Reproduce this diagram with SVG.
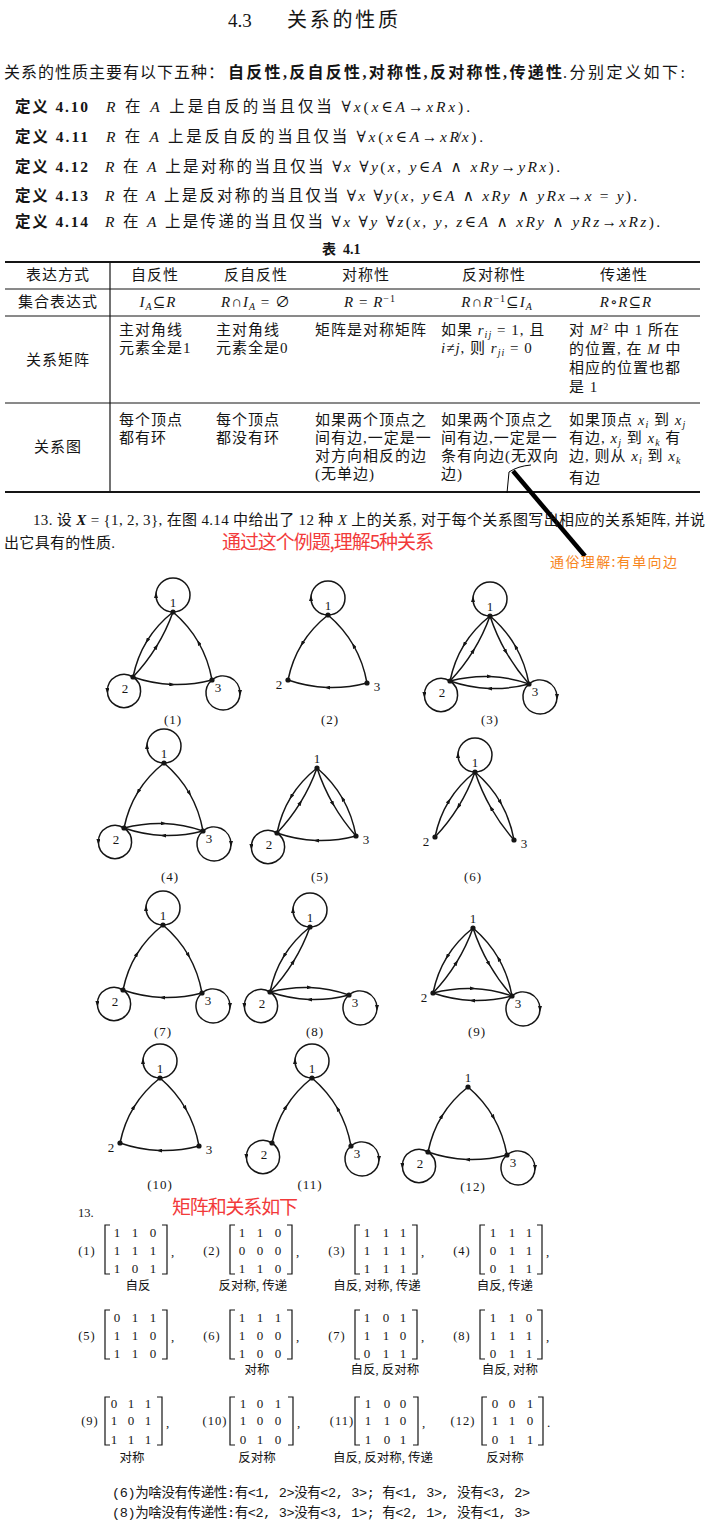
<svg xmlns="http://www.w3.org/2000/svg" width="712" height="1536" viewBox="0 0 712 1536">
<defs>
<style>
text{font-family:"Liberation Serif","DejaVu Serif","Noto Sans CJK SC",serif;fill:#151515}
.sans{font-family:"Noto Sans CJK SC","Noto Sans",sans-serif}
.mono{font-family:"Liberation Mono","Noto Sans CJK SC",monospace}
.b{font-weight:bold}
.i{font-style:italic}
.tb{font-size:15px;letter-spacing:1px}
.mid{text-anchor:middle}
.rule{stroke:#151515;fill:none}
.e{stroke:#151515;stroke-width:1.5;fill:none;marker-mid:url(#ah)}
.dot{fill:#151515}
.gl{font-size:13px;text-anchor:middle}
.cap{font-size:13px;text-anchor:middle;letter-spacing:1px}
.me{font-size:13px;text-anchor:middle}
.mb{stroke:#151515;stroke-width:1.2;fill:none}
.ml{font-size:12.5px;text-anchor:middle;letter-spacing:1px}
.pl{font-size:12.5px;text-anchor:middle}
.red{fill:#f23a3a}
.org{fill:#f7861e}
</style>
<marker id="ah" viewBox="0 0 6 4" refX="3" refY="2" markerWidth="6" markerHeight="4" markerUnits="userSpaceOnUse" orient="auto"><path d="M0,0 L6,2 L0,4 z" fill="#151515"/></marker>
</defs>
<rect width="712" height="1536" fill="#fff"/>

<!-- heading and definitions -->
<g id="heading">
<text x="228" y="27" font-size="19">4.3</text>
<text x="287" y="27" font-size="20" textLength="111" lengthAdjust="spacing">关系的性质</text>
<text x="4" y="78" font-size="16" textLength="220" lengthAdjust="spacing">关系的性质主要有以下五种：</text>
<text x="228" y="78" font-size="16" class="b" textLength="334" lengthAdjust="spacing">自反性,反自反性,对称性,反对称性,传递性</text>
<text x="563" y="78" font-size="16" textLength="122" lengthAdjust="spacing">.分别定义如下:</text>
</g>
<g id="definitions" font-size="15.5">
<text x="15" y="112" class="b" textLength="73" lengthAdjust="spacing">定义 4.10</text>
<text x="106" y="112" textLength="364" lengthAdjust="spacing"><tspan class="i">R</tspan> 在 <tspan class="i">A</tspan> 上是自反的当且仅当 ∀<tspan class="i">x</tspan>(<tspan class="i">x</tspan>∈<tspan class="i">A</tspan>→<tspan class="i">xRx</tspan>).</text>
<text x="15" y="142" class="b" textLength="73" lengthAdjust="spacing">定义 4.11</text>
<text x="106" y="142" textLength="377" lengthAdjust="spacing"><tspan class="i">R</tspan> 在 <tspan class="i">A</tspan> 上是反自反的当且仅当 ∀<tspan class="i">x</tspan>(<tspan class="i">x</tspan>∈<tspan class="i">A</tspan>→<tspan class="i">xR̸x</tspan>).</text>
<text x="15" y="172" class="b" textLength="73" lengthAdjust="spacing">定义 4.12</text>
<text x="105" y="172" textLength="455" lengthAdjust="spacing"><tspan class="i">R</tspan> 在 <tspan class="i">A</tspan> 上是对称的当且仅当 ∀<tspan class="i">x</tspan> ∀<tspan class="i">y</tspan>(<tspan class="i">x</tspan>, <tspan class="i">y</tspan>∈<tspan class="i">A</tspan> ∧ <tspan class="i">xRy</tspan>→<tspan class="i">yRx</tspan>).</text>
<text x="15" y="201" class="b" textLength="73" lengthAdjust="spacing">定义 4.13</text>
<text x="105" y="201" textLength="532" lengthAdjust="spacing"><tspan class="i">R</tspan> 在 <tspan class="i">A</tspan> 上是反对称的当且仅当 ∀<tspan class="i">x</tspan> ∀<tspan class="i">y</tspan>(<tspan class="i">x</tspan>, <tspan class="i">y</tspan>∈<tspan class="i">A</tspan> ∧ <tspan class="i">xRy</tspan> ∧ <tspan class="i">yRx</tspan>→<tspan class="i">x</tspan> = <tspan class="i">y</tspan>).</text>
<text x="15" y="227" class="b" textLength="73" lengthAdjust="spacing">定义 4.14</text>
<text x="105" y="227" textLength="555" lengthAdjust="spacing"><tspan class="i">R</tspan> 在 <tspan class="i">A</tspan> 上是传递的当且仅当 ∀<tspan class="i">x</tspan> ∀<tspan class="i">y</tspan> ∀<tspan class="i">z</tspan>(<tspan class="i">x</tspan>, <tspan class="i">y</tspan>, <tspan class="i">z</tspan>∈<tspan class="i">A</tspan> ∧ <tspan class="i">xRy</tspan> ∧ <tspan class="i">yRz</tspan>→<tspan class="i">xRz</tspan>).</text>
<text x="322" y="254" font-size="14" class="b">表</text>
<text x="343" y="254" font-size="14" class="b">4.1</text>
</g>

<!-- table -->
<g id="table">
<path class="rule" stroke-width="2" d="M5,262 H700"/>
<path class="rule" stroke-width="1" d="M5,289 H700 M5,316 H700 M5,403 H700"/>
<path class="rule" stroke-width="2.2" d="M5,492 H700"/>
<path class="rule" stroke-width="1.2" d="M110,262 V492"/>
<g class="tb">
<text class="mid" x="58" y="280">表达方式</text>
<text class="mid" x="155" y="280">自反性</text>
<text class="mid" x="256" y="280">反自反性</text>
<text class="mid" x="366" y="280">对称性</text>
<text class="mid" x="494" y="280">反对称性</text>
<text class="mid" x="624" y="280">传递性</text>
<text class="mid" x="58" y="307">集合表达式</text>
<text class="mid" x="158" y="307"><tspan class="i">I</tspan><tspan class="i" font-size="10" dy="3">A</tspan><tspan dy="-3">⊆</tspan><tspan class="i">R</tspan></text>
<text class="mid" x="256" y="307"><tspan class="i">R</tspan>∩<tspan class="i">I</tspan><tspan class="i" font-size="10" dy="3">A</tspan><tspan dy="-3"> = ∅</tspan></text>
<text class="mid" x="370" y="307"><tspan class="i">R</tspan> = <tspan class="i">R</tspan><tspan font-size="10" dy="-5">−1</tspan></text>
<text class="mid" x="497" y="307"><tspan class="i">R</tspan>∩<tspan class="i">R</tspan><tspan font-size="10" dy="-5">−1</tspan><tspan dy="5">⊆</tspan><tspan class="i">I</tspan><tspan class="i" font-size="10" dy="3">A</tspan></text>
<text class="mid" x="626" y="307"><tspan class="i">R</tspan>∘<tspan class="i">R</tspan>⊆<tspan class="i">R</tspan></text>
<text class="mid" x="58" y="365">关系矩阵</text>
<text x="119" y="335">主对角线</text>
<text x="119" y="353">元素全是1</text>
<text x="216" y="335">主对角线</text>
<text x="216" y="353">元素全是0</text>
<text x="315" y="335">矩阵是对称矩阵</text>
<text x="441" y="335">如果 <tspan class="i">r</tspan><tspan class="i" font-size="10" dy="3">ij</tspan><tspan dy="-3"> = 1, 且</tspan></text>
<text x="441" y="353"><tspan class="i">i</tspan>≠<tspan class="i">j</tspan>, 则 <tspan class="i">r</tspan><tspan class="i" font-size="10" dy="3">ji</tspan><tspan dy="-3"> = 0</tspan></text>
<text x="569" y="335">对 <tspan class="i">M</tspan><tspan font-size="10" dy="-5">2</tspan><tspan dy="5"> 中 1 所在</tspan></text>
<text x="569" y="354">的位置, 在 <tspan class="i">M</tspan> 中</text>
<text x="569" y="373">相应的位置也都</text>
<text x="569" y="392">是 1</text>
<text class="mid" x="58" y="452">关系图</text>
<text x="119" y="425">每个顶点</text>
<text x="119" y="443">都有环</text>
<text x="216" y="425">每个顶点</text>
<text x="216" y="443">都没有环</text>
<text x="315" y="425">如果两个顶点之</text>
<text x="315" y="443">间有边,一定是一</text>
<text x="315" y="461">对方向相反的边</text>
<text x="315" y="479">(无单边)</text>
<text x="441" y="425">如果两个顶点之</text>
<text x="441" y="443">间有边,一定是一</text>
<text x="441" y="461">条有向边(无双向</text>
<text x="441" y="479">边)</text>
<text x="569" y="425">如果顶点 <tspan class="i">x</tspan><tspan class="i" font-size="10" dy="3">i</tspan><tspan dy="-3"> 到 </tspan><tspan class="i">x</tspan><tspan class="i" font-size="10" dy="3">j</tspan></text>
<text x="569" y="443">有边, <tspan class="i">x</tspan><tspan class="i" font-size="10" dy="3">j</tspan><tspan dy="-3"> 到 </tspan><tspan class="i">x</tspan><tspan class="i" font-size="10" dy="3">k</tspan><tspan dy="-3"> 有</tspan></text>
<text x="569" y="461">边, 则从 <tspan class="i">x</tspan><tspan class="i" font-size="10" dy="3">i</tspan><tspan dy="-3"> 到 </tspan><tspan class="i">x</tspan><tspan class="i" font-size="10" dy="3">k</tspan></text>
<text x="569" y="483">有边</text>
</g>
</g>

<!-- annotations -->
<g id="annotation">
<path d="M513,471 L585,556" stroke="#000" stroke-width="4.5" fill="none"/>
<path d="M507,493 L509,472 Q518,466 531,465" stroke="#000" stroke-width="1" fill="none"/>
<text class="sans org" x="550" y="567" font-size="14" textLength="127" lengthAdjust="spacing">通俗理解:有单向边</text>
</g>

<g id="problem" font-size="15">
<text x="33" y="525" textLength="672" lengthAdjust="spacing">13. 设 <tspan class="i b">X</tspan> = {1, 2, 3}, 在图 4.14 中给出了 12 种 <tspan class="i">X</tspan> 上的关系, 对于每个关系图写出相应的关系矩阵, 并说</text>
<text x="4" y="548" textLength="111" lengthAdjust="spacing">出它具有的性质.</text>
<text class="sans red" x="222" y="549" font-size="19" textLength="212" lengthAdjust="spacing">通过这个例题,理解5种关系</text>
</g>

<!-- graphs -->
<g id="fig1" transform="translate(173,612)">
<g id="fig1-edges">
<path class="e" d="M0,0 Q-15.95,12.6 -25.95,28.85 Q-35.95,45.1 -40,65"/>
<path class="e" d="M-40,65 Q-26.6,50.85 -16.6,34.6 Q-6.6,18.35 0,0"/>
<path class="e" d="M39,68 Q35.3,47.5 25.55,30.5 Q15.8,13.5 0,0"/>
<path class="e" d="M-40,65 Q-20.5,71.75 -0.75,72.5 Q19,73.25 39,68"/>
<path class="e" d="M0,0 A17,17 0 0,1 -17,-17 A17,17 0 1,1 0,0"/>
<path class="e" d="M-40,65 A16.6,16.6 0 0,0 -65.6,79 A16.6,16.6 0 1,0 -40,65"/>
<path class="e" d="M39,68 A17,17 0 0,1 67,81 A17,17 0 1,1 39,68"/>
</g>
<g id="fig1-n1"><circle class="dot" cx="0" cy="0" r="2.6"/><text class="gl" x="0" y="-5">1</text></g>
<g id="fig1-n2"><circle class="dot" cx="-40" cy="65" r="2.6"/><text class="gl" x="-48" y="80.5">2</text></g>
<g id="fig1-n3"><circle class="dot" cx="39" cy="68" r="2.6"/><text class="gl" x="45" y="79.5">3</text></g>
</g>
<text class="cap" x="173" y="724">(1)</text>

<g id="fig2" transform="translate(328,615)">
<g id="fig2-edges">
<path class="e" d="M0,0 Q-15.95,12.6 -25.95,28.85 Q-35.95,45.1 -40,65"/>
<path class="e" d="M39,68 Q35.3,47.5 25.55,30.5 Q15.8,13.5 0,0"/>
<path class="e" d="M39,68 Q19,73.25 -0.75,72.5 Q-20.5,71.75 -40,65"/>
<path class="e" d="M0,0 A17,17 0 0,1 -17,-17 A17,17 0 1,1 0,0"/>
</g>
<g id="fig2-n1"><circle class="dot" cx="0" cy="0" r="2.6"/><text class="gl" x="0" y="-5">1</text></g>
<g id="fig2-n2"><circle class="dot" cx="-40" cy="65" r="2.6"/><text class="gl" x="-49" y="73.5">2</text></g>
<g id="fig2-n3"><circle class="dot" cx="39" cy="68" r="2.6"/><text class="gl" x="49" y="75.5">3</text></g>
</g>
<text class="cap" x="330" y="724">(2)</text>

<g id="fig3" transform="translate(490,616)">
<g id="fig3-edges">
<path class="e" d="M0,0 Q-15.95,12.6 -25.95,28.85 Q-35.95,45.1 -40,65"/>
<path class="e" d="M-40,65 Q-26.6,50.85 -16.6,34.6 Q-6.6,18.35 0,0"/>
<path class="e" d="M0,0 Q6.3,19 16.05,36 Q25.8,53 39,68"/>
<path class="e" d="M39,68 Q35.3,47.5 25.55,30.5 Q15.8,13.5 0,0"/>
<path class="e" d="M-40,65 Q-20,59.75 -0.25,60.5 Q19.5,61.25 39,68"/>
<path class="e" d="M39,68 Q19,73.25 -0.75,72.5 Q-20.5,71.75 -40,65"/>
<path class="e" d="M0,0 A17,17 0 0,1 -17,-17 A17,17 0 1,1 0,0"/>
<path class="e" d="M-40,65 A16.6,16.6 0 0,0 -65.6,79 A16.6,16.6 0 1,0 -40,65"/>
<path class="e" d="M39,68 A17,17 0 0,1 67,81 A17,17 0 1,1 39,68"/>
</g>
<g id="fig3-n1"><circle class="dot" cx="0" cy="0" r="2.6"/><text class="gl" x="0" y="-5">1</text></g>
<g id="fig3-n2"><circle class="dot" cx="-40" cy="65" r="2.6"/><text class="gl" x="-48" y="80.5">2</text></g>
<g id="fig3-n3"><circle class="dot" cx="39" cy="68" r="2.6"/><text class="gl" x="45" y="79.5">3</text></g>
</g>
<text class="cap" x="490" y="724">(3)</text>

<g id="fig4" transform="translate(164,763)">
<g id="fig4-edges">
<path class="e" d="M0,0 Q-15.95,12.6 -25.95,28.85 Q-35.95,45.1 -40,65"/>
<path class="e" d="M0,0 Q15.8,13.5 25.55,30.5 Q35.3,47.5 39,68"/>
<path class="e" d="M-40,65 Q-20,59.75 -0.25,60.5 Q19.5,61.25 39,68"/>
<path class="e" d="M39,68 Q19,73.25 -0.75,72.5 Q-20.5,71.75 -40,65"/>
<path class="e" d="M0,0 A17,17 0 0,1 -17,-17 A17,17 0 1,1 0,0"/>
<path class="e" d="M-40,65 A16.6,16.6 0 0,0 -65.6,79 A16.6,16.6 0 1,0 -40,65"/>
<path class="e" d="M39,68 A17,17 0 0,1 67,81 A17,17 0 1,1 39,68"/>
</g>
<g id="fig4-n1"><circle class="dot" cx="0" cy="0" r="2.6"/><text class="gl" x="0" y="-5">1</text></g>
<g id="fig4-n2"><circle class="dot" cx="-40" cy="65" r="2.6"/><text class="gl" x="-48" y="80.5">2</text></g>
<g id="fig4-n3"><circle class="dot" cx="39" cy="68" r="2.6"/><text class="gl" x="45" y="79.5">3</text></g>
</g>
<text class="cap" x="170" y="881">(4)</text>

<g id="fig5" transform="translate(317,768)">
<g id="fig5-edges">
<path class="e" d="M0,0 Q-15.95,12.6 -25.95,28.85 Q-35.95,45.1 -40,65"/>
<path class="e" d="M-40,65 Q-26.6,50.85 -16.6,34.6 Q-6.6,18.35 0,0"/>
<path class="e" d="M0,0 Q6.3,19 16.05,36 Q25.8,53 39,68"/>
<path class="e" d="M39,68 Q35.3,47.5 25.55,30.5 Q15.8,13.5 0,0"/>
<path class="e" d="M39,68 Q19,73.25 -0.75,72.5 Q-20.5,71.75 -40,65"/>
<path class="e" d="M-40,65 A16.6,16.6 0 0,0 -65.6,79 A16.6,16.6 0 1,0 -40,65"/>
</g>
<g id="fig5-n1"><circle class="dot" cx="0" cy="0" r="2.6"/><text class="gl" x="0" y="-5">1</text></g>
<g id="fig5-n2"><circle class="dot" cx="-40" cy="65" r="2.6"/><text class="gl" x="-48" y="80.5">2</text></g>
<g id="fig5-n3"><circle class="dot" cx="39" cy="68" r="2.6"/><text class="gl" x="49" y="75.5">3</text></g>
</g>
<text class="cap" x="320" y="881">(5)</text>

<g id="fig6" transform="translate(475,772)">
<g id="fig6-edges">
<path class="e" d="M0,0 Q-6.6,18.35 -16.6,34.6 Q-26.6,50.85 -40,65"/>
<path class="e" d="M-40,65 Q-35.95,45.1 -25.95,28.85 Q-15.95,12.6 0,0"/>
<path class="e" d="M0,0 Q15.8,13.5 25.55,30.5 Q35.3,47.5 39,68"/>
<path class="e" d="M39,68 Q25.8,53 16.05,36 Q6.3,19 0,0"/>
<path class="e" d="M0,0 A17,17 0 0,1 -17,-17 A17,17 0 1,1 0,0"/>
</g>
<g id="fig6-n1"><circle class="dot" cx="0" cy="0" r="2.6"/><text class="gl" x="0" y="-5">1</text></g>
<g id="fig6-n2"><circle class="dot" cx="-40" cy="65" r="2.6"/><text class="gl" x="-49" y="73.5">2</text></g>
<g id="fig6-n3"><circle class="dot" cx="39" cy="68" r="2.6"/><text class="gl" x="49" y="75.5">3</text></g>
</g>
<text class="cap" x="473" y="881">(6)</text>

<g id="fig7" transform="translate(163,925)">
<g id="fig7-edges">
<path class="e" d="M-40,65 Q-35.95,45.1 -25.95,28.85 Q-15.95,12.6 0,0"/>
<path class="e" d="M0,0 Q15.8,13.5 25.55,30.5 Q35.3,47.5 39,68"/>
<path class="e" d="M39,68 Q19,73.25 -0.75,72.5 Q-20.5,71.75 -40,65"/>
<path class="e" d="M0,0 A17,17 0 0,1 -17,-17 A17,17 0 1,1 0,0"/>
<path class="e" d="M-40,65 A16.6,16.6 0 0,0 -65.6,79 A16.6,16.6 0 1,0 -40,65"/>
<path class="e" d="M39,68 A17,17 0 0,1 67,81 A17,17 0 1,1 39,68"/>
</g>
<g id="fig7-n1"><circle class="dot" cx="0" cy="0" r="2.6"/><text class="gl" x="0" y="-5">1</text></g>
<g id="fig7-n2"><circle class="dot" cx="-40" cy="65" r="2.6"/><text class="gl" x="-48" y="80.5">2</text></g>
<g id="fig7-n3"><circle class="dot" cx="39" cy="68" r="2.6"/><text class="gl" x="45" y="79.5">3</text></g>
</g>
<text class="cap" x="163" y="1036">(7)</text>

<g id="fig8" transform="translate(310,927)">
<g id="fig8-edges">
<path class="e" d="M0,0 Q-15.95,12.6 -25.95,28.85 Q-35.95,45.1 -40,65"/>
<path class="e" d="M-40,65 Q-26.6,50.85 -16.6,34.6 Q-6.6,18.35 0,0"/>
<path class="e" d="M-40,65 Q-20,59.75 -0.25,60.5 Q19.5,61.25 39,68"/>
<path class="e" d="M39,68 Q19,73.25 -0.75,72.5 Q-20.5,71.75 -40,65"/>
<path class="e" d="M0,0 A17,17 0 0,1 -17,-17 A17,17 0 1,1 0,0"/>
<path class="e" d="M-40,65 A16.6,16.6 0 0,0 -65.6,79 A16.6,16.6 0 1,0 -40,65"/>
<path class="e" d="M39,68 A17,17 0 0,1 67,81 A17,17 0 1,1 39,68"/>
</g>
<g id="fig8-n1"><circle class="dot" cx="0" cy="0" r="2.6"/><text class="gl" x="0" y="-5">1</text></g>
<g id="fig8-n2"><circle class="dot" cx="-40" cy="65" r="2.6"/><text class="gl" x="-48" y="80.5">2</text></g>
<g id="fig8-n3"><circle class="dot" cx="39" cy="68" r="2.6"/><text class="gl" x="45" y="79.5">3</text></g>
</g>
<text class="cap" x="315" y="1036">(8)</text>

<g id="fig9" transform="translate(473,928)">
<g id="fig9-edges">
<path class="e" d="M0,0 Q-15.95,12.6 -25.95,28.85 Q-35.95,45.1 -40,65"/>
<path class="e" d="M-40,65 Q-26.6,50.85 -16.6,34.6 Q-6.6,18.35 0,0"/>
<path class="e" d="M0,0 Q6.3,19 16.05,36 Q25.8,53 39,68"/>
<path class="e" d="M39,68 Q35.3,47.5 25.55,30.5 Q15.8,13.5 0,0"/>
<path class="e" d="M-40,65 Q-20,59.75 -0.25,60.5 Q19.5,61.25 39,68"/>
<path class="e" d="M39,68 Q19,73.25 -0.75,72.5 Q-20.5,71.75 -40,65"/>
<path class="e" d="M39,68 A17,17 0 0,1 67,81 A17,17 0 1,1 39,68"/>
</g>
<g id="fig9-n1"><circle class="dot" cx="0" cy="0" r="2.6"/><text class="gl" x="0" y="-5">1</text></g>
<g id="fig9-n2"><circle class="dot" cx="-40" cy="65" r="2.6"/><text class="gl" x="-49" y="73.5">2</text></g>
<g id="fig9-n3"><circle class="dot" cx="39" cy="68" r="2.6"/><text class="gl" x="45" y="79.5">3</text></g>
</g>
<text class="cap" x="477" y="1036">(9)</text>

<g id="fig10" transform="translate(160,1078)">
<g id="fig10-edges">
<path class="e" d="M-40,65 Q-35.95,45.1 -25.95,28.85 Q-15.95,12.6 0,0"/>
<path class="e" d="M0,0 Q15.8,13.5 25.55,30.5 Q35.3,47.5 39,68"/>
<path class="e" d="M39,68 Q19,73.25 -0.75,72.5 Q-20.5,71.75 -40,65"/>
<path class="e" d="M0,0 A17,17 0 0,1 -17,-17 A17,17 0 1,1 0,0"/>
</g>
<g id="fig10-n1"><circle class="dot" cx="0" cy="0" r="2.6"/><text class="gl" x="0" y="-5">1</text></g>
<g id="fig10-n2"><circle class="dot" cx="-40" cy="65" r="2.6"/><text class="gl" x="-49" y="73.5">2</text></g>
<g id="fig10-n3"><circle class="dot" cx="39" cy="68" r="2.6"/><text class="gl" x="49" y="75.5">3</text></g>
</g>
<text class="cap" x="160" y="1189">(10)</text>

<g id="fig11" transform="translate(312,1078)">
<g id="fig11-edges">
<path class="e" d="M-40,65 Q-35.95,45.1 -25.95,28.85 Q-15.95,12.6 0,0"/>
<path class="e" d="M39,68 Q35.3,47.5 25.55,30.5 Q15.8,13.5 0,0"/>
<path class="e" d="M0,0 A17,17 0 0,1 -17,-17 A17,17 0 1,1 0,0"/>
<path class="e" d="M-40,65 A16.6,16.6 0 0,0 -65.6,79 A16.6,16.6 0 1,0 -40,65"/>
<path class="e" d="M39,68 A17,17 0 0,1 67,81 A17,17 0 1,1 39,68"/>
</g>
<g id="fig11-n1"><circle class="dot" cx="0" cy="0" r="2.6"/><text class="gl" x="0" y="-5">1</text></g>
<g id="fig11-n2"><circle class="dot" cx="-40" cy="65" r="2.6"/><text class="gl" x="-48" y="80.5">2</text></g>
<g id="fig11-n3"><circle class="dot" cx="39" cy="68" r="2.6"/><text class="gl" x="45" y="79.5">3</text></g>
</g>
<text class="cap" x="310" y="1189">(11)</text>

<g id="fig12" transform="translate(468,1087)">
<g id="fig12-edges">
<path class="e" d="M-40,65 Q-35.95,45.1 -25.95,28.85 Q-15.95,12.6 0,0"/>
<path class="e" d="M0,0 Q15.8,13.5 25.55,30.5 Q35.3,47.5 39,68"/>
<path class="e" d="M39,68 Q19,73.25 -0.75,72.5 Q-20.5,71.75 -40,65"/>
<path class="e" d="M-40,65 A16.6,16.6 0 0,0 -65.6,79 A16.6,16.6 0 1,0 -40,65"/>
<path class="e" d="M39,68 A17,17 0 0,1 67,81 A17,17 0 1,1 39,68"/>
</g>
<g id="fig12-n1"><circle class="dot" cx="0" cy="0" r="2.6"/><text class="gl" x="0" y="-5">1</text></g>
<g id="fig12-n2"><circle class="dot" cx="-40" cy="65" r="2.6"/><text class="gl" x="-48" y="80.5">2</text></g>
<g id="fig12-n3"><circle class="dot" cx="39" cy="68" r="2.6"/><text class="gl" x="45" y="79.5">3</text></g>
</g>
<text class="cap" x="473" y="1191">(12)</text>

<!-- answers -->
<text class="sans red" x="172" y="1214" font-size="19" textLength="126" lengthAdjust="spacing">矩阵和关系如下</text>
<text x="78" y="1217" font-size="12.5">13.</text>

<g id="m1" transform="translate(0,1225)">
<text class="ml" x="87" y="29.5">(1)</text>
<path class="mb" d="M110,0 H105 V49 H110 M162,0 H167 V49 H162"/>
<text class="me" y="11.5"><tspan x="117">1</tspan><tspan x="135">1</tspan><tspan x="153">0</tspan></text>
<text class="me" y="29.5"><tspan x="117">1</tspan><tspan x="135">1</tspan><tspan x="153">1</tspan></text>
<text class="me" y="47.5"><tspan x="117">1</tspan><tspan x="135">0</tspan><tspan x="153">1</tspan></text>
<text x="171" y="31" font-size="13">,</text>
<text class="pl" x="138" y="64.5">自反</text>
</g>
<g id="m2" transform="translate(0,1225)">
<text class="ml" x="212" y="29.5">(2)</text>
<path class="mb" d="M235,0 H230 V49 H235 M287,0 H292 V49 H287"/>
<text class="me" y="11.5"><tspan x="242">1</tspan><tspan x="260">1</tspan><tspan x="278">0</tspan></text>
<text class="me" y="29.5"><tspan x="242">0</tspan><tspan x="260">0</tspan><tspan x="278">0</tspan></text>
<text class="me" y="47.5"><tspan x="242">1</tspan><tspan x="260">1</tspan><tspan x="278">0</tspan></text>
<text x="296" y="31" font-size="13">,</text>
<text class="pl" x="253" y="64.5">反对称, 传递</text>
</g>
<g id="m3" transform="translate(0,1225)">
<text class="ml" x="337" y="29.5">(3)</text>
<path class="mb" d="M360,0 H355 V49 H360 M412,0 H417 V49 H412"/>
<text class="me" y="11.5"><tspan x="367">1</tspan><tspan x="386">1</tspan><tspan x="403">1</tspan></text>
<text class="me" y="29.5"><tspan x="367">1</tspan><tspan x="386">1</tspan><tspan x="403">1</tspan></text>
<text class="me" y="47.5"><tspan x="367">1</tspan><tspan x="386">1</tspan><tspan x="403">1</tspan></text>
<text x="421" y="31" font-size="13">,</text>
<text class="pl" x="377" y="64.5">自反, 对称, 传递</text>
</g>
<g id="m4" transform="translate(0,1225)">
<text class="ml" x="462" y="29.5">(4)</text>
<path class="mb" d="M485,0 H480 V49 H485 M537,0 H542 V49 H537"/>
<text class="me" y="11.5"><tspan x="493">1</tspan><tspan x="512">1</tspan><tspan x="529">1</tspan></text>
<text class="me" y="29.5"><tspan x="493">0</tspan><tspan x="512">1</tspan><tspan x="529">1</tspan></text>
<text class="me" y="47.5"><tspan x="493">0</tspan><tspan x="512">1</tspan><tspan x="529">1</tspan></text>
<text x="546" y="31" font-size="13">,</text>
<text class="pl" x="505" y="64.5">自反, 传递</text>
</g>

<g id="m5" transform="translate(0,1310)">
<text class="ml" x="87" y="29.5">(5)</text>
<path class="mb" d="M110,0 H105 V49 H110 M162,0 H167 V49 H162"/>
<text class="me" y="11.5"><tspan x="117">0</tspan><tspan x="135">1</tspan><tspan x="153">1</tspan></text>
<text class="me" y="29.5"><tspan x="117">1</tspan><tspan x="135">1</tspan><tspan x="153">0</tspan></text>
<text class="me" y="47.5"><tspan x="117">1</tspan><tspan x="135">1</tspan><tspan x="153">0</tspan></text>
<text x="171" y="31" font-size="13">,</text>
</g>
<g id="m6" transform="translate(0,1310)">
<text class="ml" x="212" y="29.5">(6)</text>
<path class="mb" d="M235,0 H230 V49 H235 M287,0 H292 V49 H287"/>
<text class="me" y="11.5"><tspan x="242">1</tspan><tspan x="260">1</tspan><tspan x="278">1</tspan></text>
<text class="me" y="29.5"><tspan x="242">1</tspan><tspan x="260">0</tspan><tspan x="278">0</tspan></text>
<text class="me" y="47.5"><tspan x="242">1</tspan><tspan x="260">0</tspan><tspan x="278">0</tspan></text>
<text x="296" y="31" font-size="13">,</text>
<text class="pl" x="257" y="63.5">对称</text>
</g>
<g id="m7" transform="translate(0,1310)">
<text class="ml" x="337" y="29.5">(7)</text>
<path class="mb" d="M360,0 H355 V49 H360 M412,0 H417 V49 H412"/>
<text class="me" y="11.5"><tspan x="367">1</tspan><tspan x="386">0</tspan><tspan x="403">1</tspan></text>
<text class="me" y="29.5"><tspan x="367">1</tspan><tspan x="386">1</tspan><tspan x="403">0</tspan></text>
<text class="me" y="47.5"><tspan x="367">0</tspan><tspan x="386">1</tspan><tspan x="403">1</tspan></text>
<text x="421" y="31" font-size="13">,</text>
<text class="pl" x="385" y="63.5">自反, 反对称</text>
</g>
<g id="m8" transform="translate(0,1310)">
<text class="ml" x="462" y="29.5">(8)</text>
<path class="mb" d="M485,0 H480 V49 H485 M537,0 H542 V49 H537"/>
<text class="me" y="11.5"><tspan x="493">1</tspan><tspan x="512">1</tspan><tspan x="529">0</tspan></text>
<text class="me" y="29.5"><tspan x="493">1</tspan><tspan x="512">1</tspan><tspan x="529">1</tspan></text>
<text class="me" y="47.5"><tspan x="493">0</tspan><tspan x="512">1</tspan><tspan x="529">1</tspan></text>
<text x="546" y="31" font-size="13">,</text>
<text class="pl" x="510" y="63.5">自反, 对称</text>
</g>

<g id="m9" transform="translate(0,1397)">
<text class="ml" x="90" y="27.5">(9)</text>
<path class="mb" d="M110,0 H105 V48 H110 M157,0 H162 V48 H157"/>
<text class="me" y="10.5"><tspan x="114">0</tspan><tspan x="131">1</tspan><tspan x="148">1</tspan></text>
<text class="me" y="28"><tspan x="114">1</tspan><tspan x="131">0</tspan><tspan x="148">1</tspan></text>
<text class="me" y="47"><tspan x="114">1</tspan><tspan x="131">1</tspan><tspan x="148">1</tspan></text>
<text x="166" y="30" font-size="13">,</text>
<text class="pl" x="132" y="64.5">对称</text>
</g>
<g id="m10" transform="translate(0,1397)">
<text class="ml" x="215" y="27.5">(10)</text>
<path class="mb" d="M235,0 H230 V48 H235 M288,0 H293 V48 H288"/>
<text class="me" y="10.5"><tspan x="243">1</tspan><tspan x="260">0</tspan><tspan x="278">1</tspan></text>
<text class="me" y="28"><tspan x="243">1</tspan><tspan x="260">0</tspan><tspan x="278">0</tspan></text>
<text class="me" y="47"><tspan x="243">0</tspan><tspan x="260">1</tspan><tspan x="278">0</tspan></text>
<text x="297" y="30" font-size="13">,</text>
<text class="pl" x="257" y="64.5">反对称</text>
</g>
<g id="m11" transform="translate(0,1397)">
<text class="ml" x="342" y="27.5">(11)</text>
<path class="mb" d="M360,0 H355 V48 H360 M413,0 H418 V48 H413"/>
<text class="me" y="10.5"><tspan x="368">1</tspan><tspan x="387">0</tspan><tspan x="403">0</tspan></text>
<text class="me" y="28"><tspan x="368">1</tspan><tspan x="387">1</tspan><tspan x="403">0</tspan></text>
<text class="me" y="47"><tspan x="368">1</tspan><tspan x="387">0</tspan><tspan x="403">1</tspan></text>
<text x="422" y="30" font-size="13">,</text>
<text class="pl" x="383" y="64.5">自反, 反对称, 传递</text>
</g>
<g id="m12" transform="translate(0,1397)">
<text class="ml" x="463" y="27.5">(12)</text>
<path class="mb" d="M487,0 H482 V48 H487 M538,0 H543 V48 H538"/>
<text class="me" y="10.5"><tspan x="495">0</tspan><tspan x="512">0</tspan><tspan x="530">1</tspan></text>
<text class="me" y="28"><tspan x="495">1</tspan><tspan x="512">1</tspan><tspan x="530">0</tspan></text>
<text class="me" y="47"><tspan x="495">0</tspan><tspan x="512">1</tspan><tspan x="530">1</tspan></text>
<text x="547" y="30" font-size="13">.</text>
<text class="pl" x="505" y="64.5">反对称</text>
</g>

<g id="notes">
<text class="mono" x="112" y="1497" font-size="13.5" textLength="418" lengthAdjust="spacing">(6)为啥没有传递性:有&lt;1, 2&gt;没有&lt;2, 3&gt;; 有&lt;1, 3&gt;, 没有&lt;3, 2&gt;</text>
<text class="mono" x="112" y="1517" font-size="13.5" textLength="418" lengthAdjust="spacing">(8)为啥没有传递性:有&lt;2, 3&gt;没有&lt;3, 1&gt;; 有&lt;2, 1&gt;, 没有&lt;1, 3&gt;</text>
</g>
</svg>
